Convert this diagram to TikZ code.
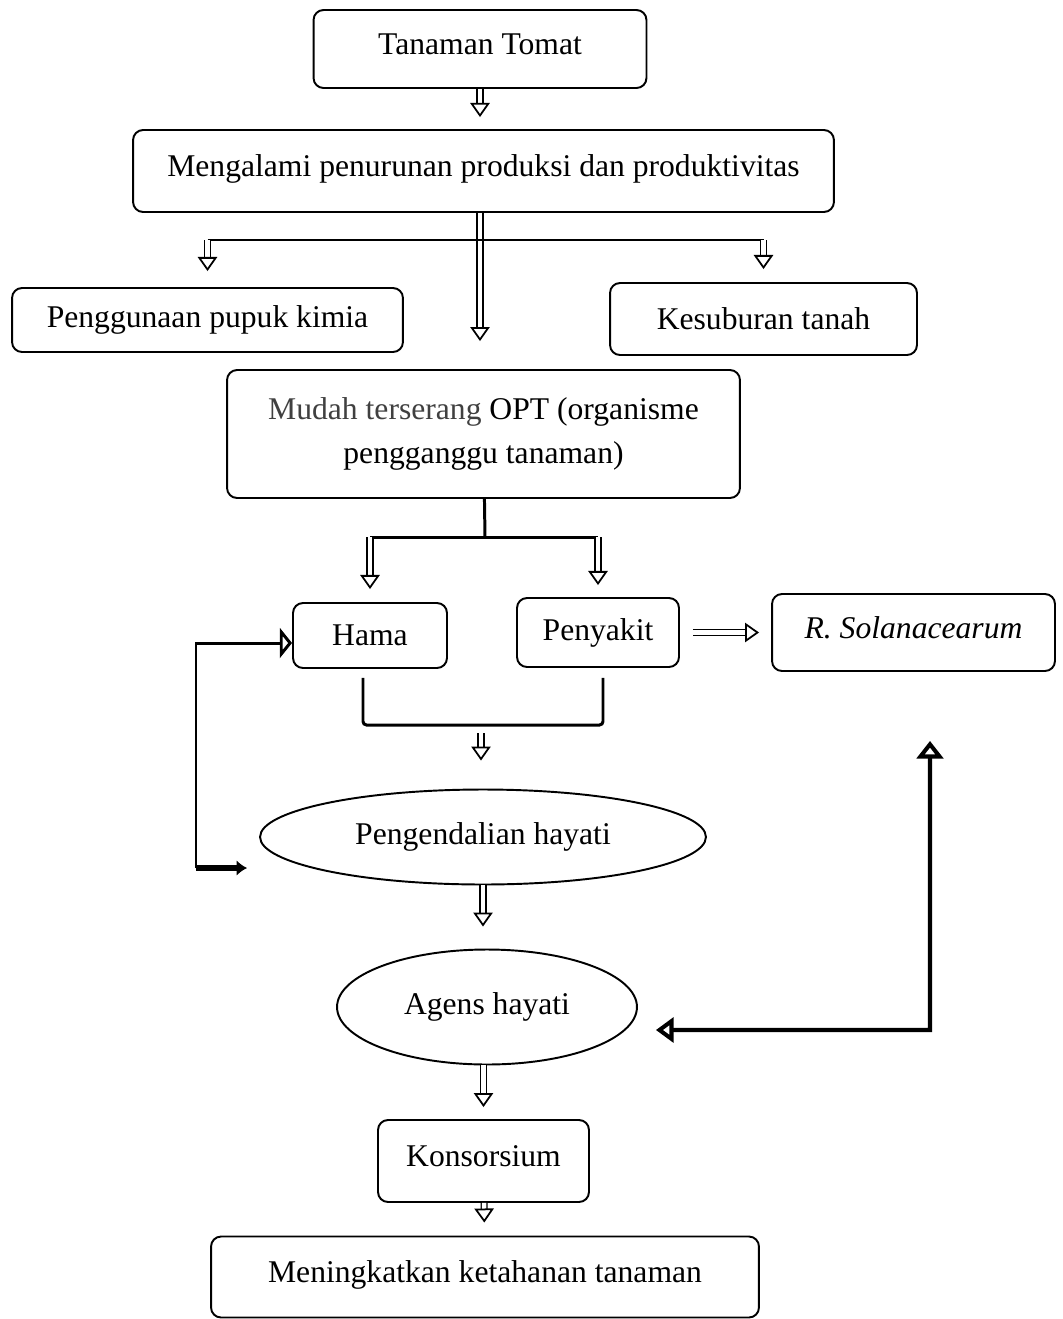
\documentclass[tikz,border=0pt]{standalone}
\usepackage{fontspec}
\setmainfont{Liberation Serif}
\usetikzlibrary{shapes.geometric, arrows.meta, positioning}
\definecolor{greytext}{RGB}{64,64,64}
\tikzstyle{box} = [rectangle, rounded corners=0.2cm, draw=black, line width=1.1pt, inner sep=0pt, text centered, font=\fontsize{18}{25}\selectfont]
\tikzstyle{highbox} = [box, text height=12pt, text depth=5.6pt]
\tikzstyle{oval} = [ellipse, draw=black, line width=1.1pt, inner sep=0pt, text centered, font=\fontsize{18}{25}\selectfont]
\tikzstyle{dblarrow} = [double, double distance=2.6pt, line width=0.7pt, -{Triangle[open, length=8pt, width=11pt, line width=1pt]}]
\tikzstyle{link} = [line width=1.7pt]
\tikzstyle{backlink} = [line width=2.3pt]

\begin{document}
\begin{tikzpicture}[x=0.02cm, y=-0.02cm]
\useasboundingbox (0,0) rectangle (1062,1319);

% Nodes
\node[highbox, minimum width=6.66cm, minimum height=1.56cm] (tomat) at (480,49) {Tanaman Tomat};
\node[highbox, minimum width=14.02cm, minimum height=1.64cm] (produksi) at (483.5,171) {Mengalami penurunan produksi dan produktivitas};
\node[box, minimum width=7.82cm, minimum height=1.28cm] (pupuk) at (207.5,320) {Penggunaan pupuk kimia};
\node[box, minimum width=6.14cm, minimum height=1.44cm] (tanah) at (763.5,319) {Kesuburan tanah};
\node[box, minimum width=10.26cm, minimum height=2.56cm, align=center] (opt) at (483.5,434) {\textcolor{greytext}{Mudah terserang} OPT (organisme\\pengganggu tanaman)};
\node[box, minimum width=3.08cm, minimum height=1.3cm] (hama) at (370,635.5) {Hama};
\node[box, minimum width=3.24cm, minimum height=1.38cm] (penyakit) at (598,632.5) {Penyakit};
\node[highbox, minimum width=5.66cm, minimum height=1.54cm] (ralstonia) at (913.5,632.5) {\textit{R. Solanacearum}};
\node[oval, minimum width=8.92cm, minimum height=1.9cm] (pengendalian) at (483,837) {Pengendalian hayati};
\node[oval, minimum width=6.0cm, minimum height=2.3cm] (agens) at (487,1007) {Agens hayati};
\node[highbox, minimum width=4.22cm, minimum height=1.64cm] (konsorsium) at (483.5,1161) {Konsorsium};
\node[highbox, minimum width=10.96cm, minimum height=1.62cm] (ketahanan) at (485,1277) {Meningkatkan ketahanan tanaman};

\coordinate (split) at (480,240);
\coordinate (fork) at (485,537);
\coordinate (join) at (481,725);
\coordinate (back) at (196,868);
\coordinate (turn) at (930,1030);

% Arrows
\draw[dblarrow, shorten >=0.24cm] (tomat) -- (tomat |- produksi.north);
\draw[dblarrow, shorten >=0.56cm] (split |- produksi.south) -- (split |- opt.north);
\draw[link] (split -| pupuk) -- (split -| tanah);
\draw[dblarrow, shorten >=0.32cm] (split -| pupuk) -- (pupuk);
\draw[dblarrow, shorten >=0.26cm] (split -| tanah) -- (tanah);
\draw[link] (opt) -- (fork);
\draw[link] (fork -| hama) -- (fork -| penyakit);
\draw[dblarrow, shorten >=0.26cm] (fork -| hama) -- (hama);
\draw[dblarrow, shorten >=0.24cm] (fork -| penyakit) -- (penyakit);
\draw[dblarrow, shorten <=0.26cm, shorten >=0.24cm] (penyakit) -- (ralstonia);
\draw[link, rounded corners=2pt] ([xshift=-0.14cm, yshift=-0.18cm]hama.south) |- (join) -| ([xshift=0.1cm, yshift=-0.2cm]penyakit.south);
\draw[dblarrow, shorten <=0.16cm, shorten >=0.56cm] (join) -- (join |- pengendalian.north);
\draw[line width=3.2pt, {Latex[length=6pt, width=9pt]}-] ([xshift=-0.24cm, yshift=-0.62cm]pengendalian.west) -- (back);
\draw[link, -{Triangle[open, length=7pt, width=17pt]}] (back) |- ([yshift=-0.15cm]hama.west);
\draw[dblarrow, shorten >=0.44cm] (pengendalian) -- (pengendalian |- agens.north);
\draw[backlink, {Triangle[open, length=10pt, width=14pt]}-{Triangle[open, length=10pt, width=15pt]}] ([xshift=0.36cm, yshift=-0.46cm]agens.east) -- (turn) -- ([xshift=0.33cm, yshift=-1.38cm]ralstonia.south);
\draw[dblarrow, shorten >=0.24cm] (konsorsium |- agens.south) -- (konsorsium);
\draw[dblarrow, shorten >=0.26cm] (konsorsium) -- (ketahanan);

\end{tikzpicture}
\end{document}
